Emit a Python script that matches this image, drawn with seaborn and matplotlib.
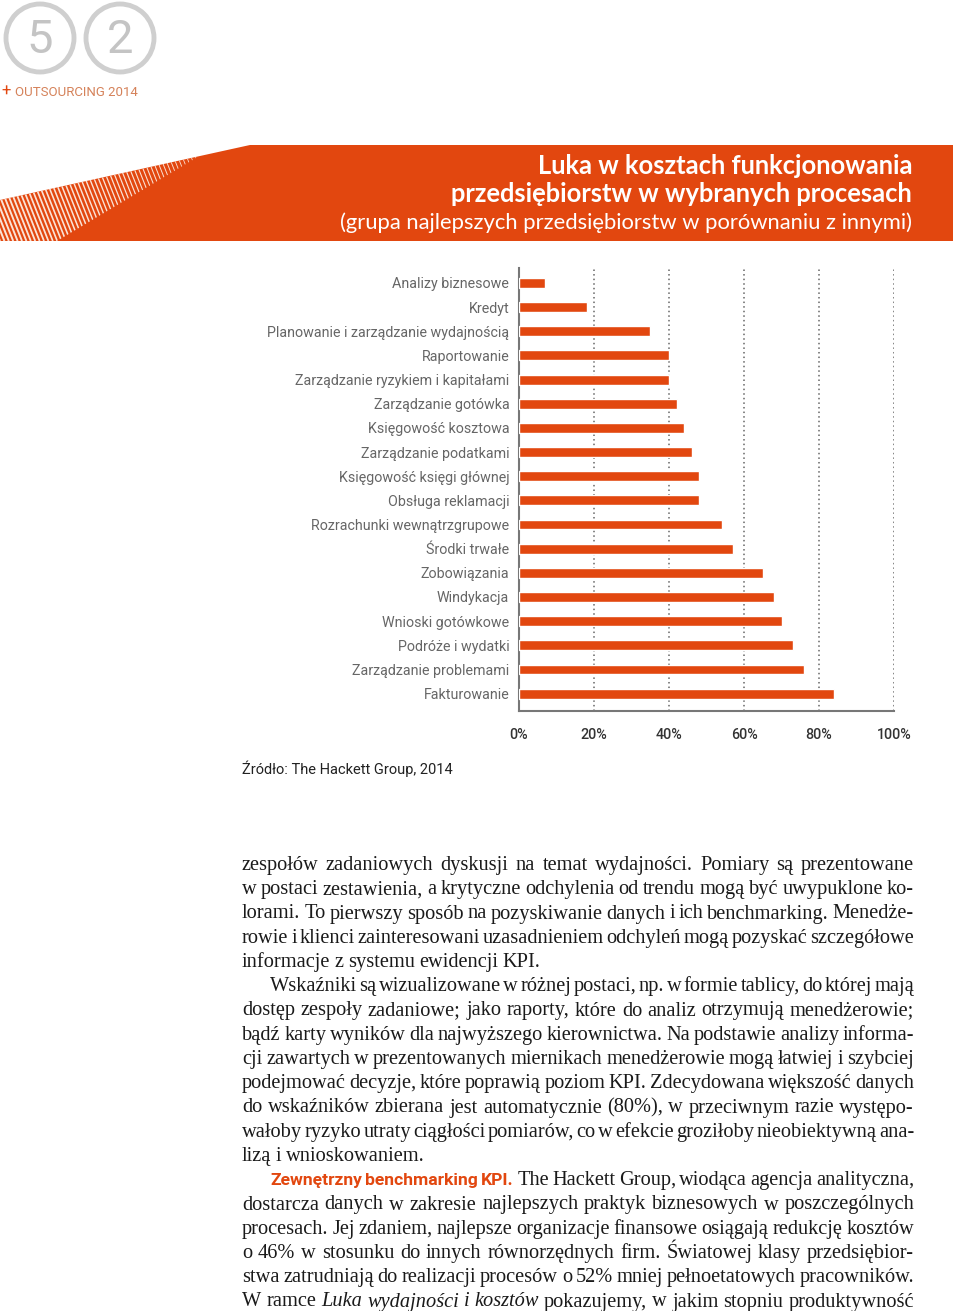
import numpy as np
import pandas as pd
import matplotlib
matplotlib.use('Agg')
import matplotlib.pyplot as plt
import seaborn as sns
from matplotlib.patches import Polygon, Circle
from matplotlib import font_manager

# Chart data
processes = ['Analizy biznesowe', 'Kredyt', 'Planowanie i zarządzanie wydajnością',
             'Raportowanie', 'Zarządzanie ryzykiem i kapitałami', 'Zarządzanie gotówka',
             'Księgowość kosztowa', 'Zarządzanie podatkami', 'Księgowość księgi głównej',
             'Obsługa reklamacji', 'Rozrachunki wewnątrzgrupowe', 'Środki trwałe',
             'Zobowiązania', 'Windykacja', 'Wnioski gotówkowe', 'Podróże i wydatki',
             'Zarządzanie problemami', 'Fakturowanie']
gap_pct = [7, 18, 35, 40, 40, 42, 44, 46, 48, 48, 54, 57, 65, 68, 70, 73, 76, 84]
x_ticks = [0, 20, 40, 60, 80, 100]
x_labels = ['0%', '20%', '40%', '60%', '80%', '100%']

title_lines = ['Luka w kosztach funkcjonowania', 'przedsiębiorstw w wybranych procesach']
subtitle = '(grupa najlepszych przedsiębiorstw w porównaniu z innymi)'
source = 'Źródło: The Hackett Group, 2014'

# body text: (line, justified, indent); tokens marked *..* italic, #..# orange bold
body_lines = [
    ('zespołów zadaniowych dyskusji na temat wydajności. Pomiary są prezentowane', True, False),
    ('w postaci zestawienia, a krytyczne odchylenia od trendu mogą być uwypuklone ko-', True, False),
    ('lorami. To pierwszy sposób na pozyskiwanie danych i ich benchmarking. Menedże-', True, False),
    ('rowie i klienci zainteresowani uzasadnieniem odchyleń mogą pozyskać szczegółowe', True, False),
    ('informacje z systemu ewidencji KPI.', False, False),
    ('Wskaźniki są wizualizowane w różnej postaci, np. w formie tablicy, do której mają', True, True),
    ('dostęp zespoły zadaniowe; jako raporty, które do analiz otrzymują menedżerowie;', True, False),
    ('bądź karty wyników dla najwyższego kierownictwa. Na podstawie analizy informa-', True, False),
    ('cji zawartych w prezentowanych miernikach menedżerowie mogą łatwiej i szybciej', True, False),
    ('podejmować decyzje, które poprawią poziom KPI. Zdecydowana większość danych', True, False),
    ('do wskaźników zbierana jest automatycznie (80%), w przeciwnym razie występo-', True, False),
    ('wałoby ryzyko utraty ciągłości pomiarów, co w efekcie groziłoby nieobiektywną ana-', True, False),
    ('lizą i wnioskowaniem.', False, False),
    ('#Zewnętrzny# #benchmarking# #KPI.# The Hackett Group, wiodąca agencja analityczna,', True, True),
    ('dostarcza danych w zakresie najlepszych praktyk biznesowych w poszczególnych', True, False),
    ('procesach. Jej zdaniem, najlepsze organizacje finansowe osiągają redukcję kosztów', True, False),
    ('o 46% w stosunku do innych równorzędnych firm. Światowej klasy przedsiębior-', True, False),
    ('stwa zatrudniają do realizacji procesów o 52% mniej pełnoetatowych pracowników.', True, False),
    ('W ramce *Luka* *wydajności* *i* *kosztów* pokazujemy, w jakim stopniu produktywność', True, False),
]

df = pd.DataFrame({'proces': processes, 'luka': gap_pct})

ORANGE = '#E2470F'
W, H = 960, 1311

sns.set_style('white')
plt.rcParams['font.family'] = ['Roboto', 'DejaVu Sans']

# narrow sans for the condensed bits, if it is there
installed = {f.name for f in font_manager.fontManager.ttflist}
has_narrow = 'Liberation Sans Narrow' in installed
NARROW = 'Liberation Sans Narrow' if has_narrow else 'Roboto'

fig = plt.figure(figsize=(W / 100, H / 100), dpi=100)

# full-page layer in pixel coordinates
bg = fig.add_axes([0, 0, 1, 1], zorder=0)
bg.set_xlim(0, W)
bg.set_ylim(H, 0)
bg.axis('off')

# page header
for cx, digit in [(40, '5'), (120, '2')]:
    bg.add_patch(Circle((cx, 38), 34, fill=False, ec='#cfcfcf', lw=3.5))
    bg.text(cx, 40, digit, ha='center', va='center', fontsize=36 if has_narrow else 34,
            color='#c4c4c4', family=NARROW)
bg.text(1, 91, '+', ha='left', va='center', fontsize=12, color=ORANGE)
bg.text(15, 92, 'OUTSOURCING 2014', ha='left', va='center',
        fontsize=11 if has_narrow else 9.5, color='#d5825a', family=NARROW)

# title banner
banner = Polygon([(0, 200), (250, 145), (953, 145), (953, 241), (0, 241)],
                 closed=True, fc=ORANGE, ec='none')
bg.add_patch(banner)
hatch_clip = Polygon([(0, 200), (199, 156.2), (57, 241), (0, 241)], closed=True,
                     fc='none', ec='none')
bg.add_patch(hatch_clip)
for x0 in np.arange(-60, 230, 4.4):
    lw = max(0.4, 1.3 - x0 / 250)
    ln, = bg.plot([x0, x0 + 38], [145, 241], color='#fbe3d6', lw=lw, solid_capstyle='butt')
    ln.set_clip_path(hatch_clip)

bg.text(912, 166, title_lines[0], ha='right', va='center', fontsize=18.4,
        color='white', fontweight='bold', family='Lato')
bg.text(912, 194, title_lines[1], ha='right', va='center', fontsize=18.4,
        color='white', fontweight='bold', family='Lato')
bg.text(912, 223, subtitle, ha='right', va='center', fontsize=15.8,
        color='white', family='Lato')

bg.text(242, 769, source, ha='left', va='center', fontsize=10.5, color='#222222')

# bar chart
ax = fig.add_axes([519 / W, 1 - 711 / H, 375 / W, (711 - 268) / H], zorder=2)
ax.patch.set_alpha(0)
sns.barplot(data=df, y='proces', x='luka', orient='h', color=ORANGE,
            width=0.41, saturation=1, ax=ax, zorder=3)
ax.set_xlim(0, 100)
ax.set_ylim(17.72, -0.62)
ax.set_xticks(x_ticks)
ax.set_xticklabels(x_labels, fontsize=10.3, color='#333333', fontweight='medium')
ax.tick_params(axis='x', length=4, width=1.2, color='#777777', pad=8)
ax.tick_params(axis='y', length=0, pad=7, labelsize=10.3, labelcolor='#666666')
ax.set_xlabel('')
ax.set_ylabel('')
ax.set_axisbelow(True)
ax.grid(axis='x', linestyle=(0, (1, 2)), color='#666666', lw=1.1)
for s in ['top', 'right']:
    ax.spines[s].set_visible(False)
for s in ['left', 'bottom']:
    ax.spines[s].set_color('#777777')
    ax.spines[s].set_linewidth(1.5)

# body text, justified word by word
renderer = fig.canvas.get_renderer()
left, right = 242, 914
indent = 28
y0, dy = 865, 24.25
body_size = 14.7


def make_word(word):
    kw = dict(fontsize=body_size, color='#1a1a1a', family=['Liberation Serif', 'DejaVu Serif'])
    if word.startswith('#') and word.endswith('#'):
        word = word[1:-1]
        kw.update(family=NARROW, fontweight='bold', color=ORANGE,
                  fontsize=14.2 if has_narrow else 12.6)
    elif word.startswith('*') and word.endswith('*'):
        word = word[1:-1]
        kw.update(style='italic')
    t = bg.text(0, 0, word, ha='left', va='baseline', **kw)
    return t


for i, (line, justify, ind) in enumerate(body_lines):
    y = y0 + i * dy + 5
    words = [make_word(w) for w in line.split(' ')]
    widths = [t.get_window_extent(renderer).width for t in words]
    x_start = left + (indent if ind else 0)
    if justify and len(words) > 1:
        gap = (right - x_start - sum(widths)) / (len(words) - 1)
    else:
        gap = 4.4
    x = x_start
    for t, w in zip(words, widths):
        t.set_position((x, y))
        x += w + gap

fig.savefig('out.png', dpi=100)
